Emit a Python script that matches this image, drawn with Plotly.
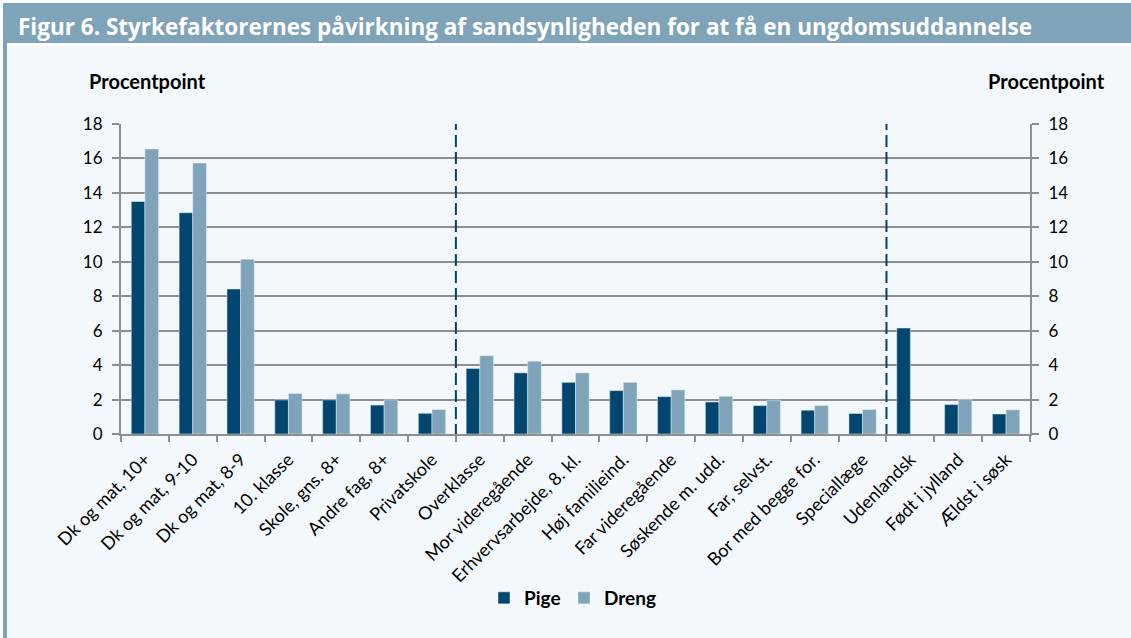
import plotly.graph_objects as go

categories = ["Dk og mat, 10+", "Dk og mat, 9-10", "Dk og mat, 8-9", "10. klasse",
              "Skole, gns. 8+", "Andre fag, 8+", "Privatskole", "Overklasse",
              "Mor videregående", "Erhvervsarbejde, 8. kl.", "Høj familieind.",
              "Far videregående", "Søskende m. udd.", "Far, selvst.",
              "Bor med begge for.", "Speciallæge", "Udenlandsk", "Født i jylland",
              "Ældst i søsk"]
pige = [13.5, 12.85, 8.42, 1.98, 1.98, 1.68, 1.2, 3.8, 3.55, 3.0, 2.52, 2.17,
        1.86, 1.65, 1.38, 1.19, 6.15, 1.71, 1.16]
dreng = [16.55, 15.73, 10.14, 2.35, 2.33, 1.98, 1.42, 4.54, 4.23, 3.55, 3.0, 2.56,
         2.19, 1.96, 1.65, 1.42, None, 2.02, 1.4]
y_ticks = [0, 2, 4, 6, 8, 10, 12, 14, 16, 18]
title = "Figur 6. Styrkefaktorernes påvirkning af sandsynligheden for at få en ungdomsuddannelse"
axis_title = "Procentpoint"
separators = [6.5, 15.5]

W, H = 1131, 638
L, R, T, B = 121, 1030, 124, 434
def px(x):
    return (x - L) / (R - L)
def py(y):
    return (B - y) / (B - T)

C_PIGE = "#00466e"
C_DRENG = "#7fa3b8"
BODY = "#f3f8fc"
GRID = "#8e8e8e"
FONT = "Lato"

fig = go.Figure()
fig.add_trace(go.Bar(x=categories, y=pige, name="Pige", marker_color=C_PIGE))
fig.add_trace(go.Bar(x=categories, y=dreng, name="Dreng", marker_color=C_DRENG))
# invisible helper trace: shows the right-hand axis and pads the legend
fig.add_trace(go.Scatter(x=categories[:1], y=[0], yaxis="y2", mode="markers", name=" ",
                         marker=dict(color="rgba(0,0,0,0)", size=1,
                                     line=dict(width=0, color="rgba(0,0,0,0)")),
                         showlegend=True, hoverinfo="skip"))

shapes = [
    dict(type="rect", xref="paper", yref="paper", x0=px(-5), x1=px(W + 5), y0=py(H + 5), y1=py(-5),
         fillcolor="white", line_width=0, layer="below"),
    dict(type="rect", xref="paper", yref="paper", x0=px(7), x1=px(W + 5), y0=py(H + 5), y1=py(46),
         fillcolor=BODY, line_width=0, layer="below"),
    dict(type="rect", xref="paper", yref="paper", x0=px(3), x1=px(W + 5), y0=py(43), y1=py(3),
         fillcolor=C_DRENG, line_width=0, layer="below"),
    dict(type="rect", xref="paper", yref="paper", x0=px(3), x1=px(7), y0=py(H + 5), y1=py(43),
         fillcolor=C_DRENG, line_width=0, layer="below"),
]
for s in separators:
    shapes.append(dict(type="line", xref="x", yref="y", x0=s, x1=s, y0=-0.12, y1=18.15,
                       line=dict(color="#0d3f63", width=2, dash="12px,5px")))

annotations = [
    dict(text="<b>" + title + "</b>", xref="paper", yref="paper", x=px(16), y=py(27),
         xanchor="left", yanchor="middle", showarrow=False,
         font=dict(family="Open Sans", size=22.5, color="white")),
    dict(text="<b>" + axis_title + "</b>", xref="paper", yref="paper", x=px(87), y=py(81),
         xanchor="left", yanchor="middle", showarrow=False,
         font=dict(family=FONT, size=20, color="black")),
    dict(text="<b>" + axis_title + "</b>", xref="paper", yref="paper", x=px(1107), y=py(81),
         xanchor="right", yanchor="middle", showarrow=False,
         font=dict(family=FONT, size=20, color="black")),
]

fig.update_layout(
    width=W, height=H,
    margin=dict(l=L, r=W - R, t=T, b=H - B, autoexpand=False),
    paper_bgcolor=BODY, plot_bgcolor=BODY,
    barmode="group", bargap=0.43, bargroupgap=0,
    font=dict(family=FONT, color="black"),
    shapes=shapes, annotations=annotations,
    legend=dict(orientation="h", x=px(484), xanchor="left", y=py(598), yanchor="middle",
                font=dict(family=FONT, size=19, color="black", weight="bold"),
                bgcolor="rgba(0,0,0,0)", itemwidth=30, entrywidth=35),
    xaxis=dict(type="category", range=[-0.5, len(categories) - 0.5], tickangle=-45,
               tickfont=dict(size=18), ticklabelstandoff=6,
               ticks="outside", tickson="boundaries", ticklen=6, tickcolor=GRID, tickwidth=2,
               showline=True, linecolor=GRID, linewidth=2, showgrid=False),
    yaxis=dict(range=[0, 18], tickvals=y_ticks, tickfont=dict(size=17),
               ticks="outside", ticklen=7, tickcolor=GRID, tickwidth=2, ticklabelstandoff=6,
               showline=True, linecolor=GRID, linewidth=2,
               showgrid=True, gridcolor=GRID, gridwidth=2, zeroline=False),
    yaxis2=dict(range=[0, 18], tickvals=y_ticks, tickfont=dict(size=17), overlaying="y",
                side="right", ticks="outside", ticklen=7, tickcolor=GRID, tickwidth=2,
                ticklabelstandoff=6,
                showline=True, linecolor=GRID, linewidth=2, showgrid=False, zeroline=False),
)

fig.write_html("out.html", config={"displayModeBar": False},
               post_script="document.body.style.margin='0';")
